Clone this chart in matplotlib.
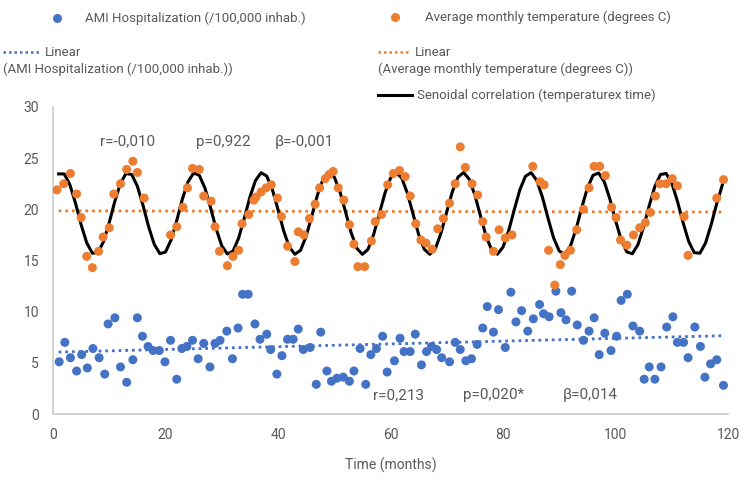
import numpy as np
import matplotlib.pyplot as plt
from matplotlib.lines import Line2D

plt.rcParams['font.family'] = ['Roboto', 'DejaVu Sans']

# AMI hospitalization (/100,000 inhab.), month vs value
ami_t = [1.1, 2.1, 3.1, 4.2, 5.1, 6.1, 7.1, 8.2, 9.2, 9.8, 11.0, 12.0, 13.1, 14.2, 15.0, 15.9,
         16.9, 17.8, 18.9, 19.9, 20.9, 22.0, 22.9, 23.8, 24.8, 25.8, 26.8, 27.9, 28.8, 29.7,
         30.9, 31.9, 32.9, 33.7, 34.7, 35.9, 36.8, 38.0, 38.7, 39.8, 40.7, 41.7, 42.7, 43.6,
         44.5, 45.7, 46.8, 47.6, 48.7, 49.5, 50.5, 51.6, 52.7, 53.5, 54.6, 55.6, 56.5, 57.5,
         58.6, 59.4, 60.7, 61.7, 62.4, 63.5, 64.4, 65.5, 66.4, 67.3, 68.2, 69.1, 70.5, 71.5,
         72.4, 73.4, 74.4, 75.4, 76.4, 77.2, 78.3, 79.2, 80.4, 81.4, 82.3, 83.3, 84.4, 85.4,
         86.5, 87.2, 88.2, 89.4, 90.3, 91.2, 92.2, 93.2, 94.3, 95.3, 96.2, 97.1, 98.1, 99.2,
         100.2, 101.0, 102.1, 103.1, 104.3, 105.1, 106.0, 107.0, 108.1, 109.1, 110.2, 111.0,
         112.1, 112.9, 114.1, 115.1, 115.9, 116.9, 118.0, 119.2]
ami_v = [5.1, 7.0, 5.5, 4.2, 5.8, 4.5, 6.4, 5.5, 3.9, 8.8, 9.4, 4.6, 3.1, 5.3, 9.4, 7.6,
         6.6, 6.2, 6.2, 5.1, 7.2, 3.4, 6.4, 6.6, 7.2, 5.4, 6.9, 4.6, 6.9, 7.2,
         8.1, 5.4, 8.4, 11.7, 11.7, 8.8, 7.3, 7.8, 6.3, 3.9, 5.7, 7.3, 7.3, 8.3,
         6.3, 6.5, 2.9, 8.0, 4.2, 3.2, 3.5, 3.6, 3.2, 4.2, 6.4, 2.9, 5.8, 6.4,
         7.6, 4.1, 5.2, 7.4, 6.1, 6.1, 7.8, 4.8, 6.1, 6.6, 6.3, 5.5, 5.1, 7.0,
         6.3, 5.2, 5.4, 6.8, 8.4, 10.5, 8.0, 10.2, 6.5, 11.9, 9.0, 10.1, 8.1, 9.3,
         10.7, 9.8, 9.5, 12.0, 9.9, 9.2, 12.0, 8.7, 7.2, 8.1, 9.4, 5.8, 7.9, 6.2,
         7.6, 11.1, 11.7, 8.6, 8.1, 3.4, 4.6, 3.4, 4.6, 8.5, 9.5, 7.0,
         7.0, 5.5, 8.5, 6.6, 3.6, 4.9, 5.3, 2.8]

# average monthly temperature (degrees C)
temp_t = [0.7, 1.9, 3.1, 4.2, 5.0, 6.0, 7.0, 8.1, 8.9, 10.0, 10.8, 12.0, 13.1, 14.2, 15.0,
          16.2, 20.9, 22.0, 23.1, 23.9, 24.8, 26.0, 26.8, 28.1, 28.8, 29.6, 31.0, 32.0,
          33.0, 33.6, 34.8, 35.7, 36.1, 37.0, 37.9, 38.8, 39.9, 40.6, 41.7, 43.0, 43.6,
          44.6, 45.6, 46.6, 47.4, 48.4, 49.1, 49.8, 50.7, 51.7, 52.7, 53.5, 54.2, 55.4,
          56.6, 57.3, 58.4, 59.5, 60.5, 61.6, 62.6, 63.5, 64.5, 65.4, 66.3, 67.4, 68.4,
          69.4, 70.5, 71.5, 72.4, 73.3, 74.5, 75.5, 76.4, 77.0, 78.3, 79.3, 80.4, 81.6,
          85.3, 86.6, 87.3, 88.1, 89.2, 90.2, 91.0, 92.0, 93.1, 94.3, 95.3, 96.2, 97.2,
          98.2, 99.3, 100.1, 100.9, 102.0, 103.2, 104.3, 105.3, 106.2, 107.1, 107.9,
          109.0, 110.1, 111.0, 112.2, 112.9, 118.0, 119.2]
temp_v = [21.9, 22.5, 23.5, 21.5, 19.2, 15.4, 14.3, 15.9, 17.3, 18.2, 21.5, 22.5, 23.9, 24.7, 23.6,
          21.1, 17.5, 18.3, 20.2, 22.1, 24.0, 23.9, 21.3, 20.8, 18.3, 15.9, 14.5, 15.4,
          16.0, 18.6, 19.5, 20.9, 21.2, 21.7, 22.1, 22.4, 21.1, 19.3, 16.4, 14.9, 17.8,
          17.5, 19.1, 20.5, 22.1, 23.0, 23.4, 23.7, 22.1, 20.9, 18.5, 16.6, 14.4, 14.4,
          16.9, 18.8, 19.5, 22.4, 23.5, 23.8, 23.2, 21.3, 18.6, 17.0, 16.7, 16.1, 18.1,
          19.1, 20.6, 22.5, 26.1, 24.1, 22.5, 21.4, 18.8, 17.3, 15.9, 18.0, 17.2, 17.5,
          24.2, 22.7, 22.4, 16.0, 12.6, 14.6, 15.5, 16.0, 18.0, 20.0, 22.1, 24.2, 24.2,
          23.3, 20.2, 19.2, 17.0, 16.5, 17.5, 18.2, 18.7, 19.7, 21.3, 22.5,
          22.5, 23.0, 22.3, 19.3, 15.5, 21.1, 22.9]

# fitted sinusoidal curve (temperature x time), months 1..119
sine_t = list(range(1, 120))
sine_v = [23.46, 23.46, 22.41, 20.60, 18.50, 16.72, 15.71, 15.77, 16.87, 18.71, 20.80, 22.56,
          23.51, 23.40, 22.26, 20.39, 18.30, 16.58, 15.67, 15.83, 17.02, 18.91, 21.00, 22.69,
          23.55, 23.33, 22.10, 20.18, 18.11, 16.44, 15.64, 15.91, 17.19, 19.12, 21.19, 22.82,
          23.58, 23.25, 21.93, 19.98, 17.92, 16.32, 15.61, 15.99, 17.36, 19.33, 21.38, 22.94,
          23.60, 23.16, 21.76, 19.77, 17.73, 16.20, 15.60, 16.09, 17.53, 19.54, 21.56, 23.05,
          23.60, 23.06, 21.58, 19.56, 17.55, 16.10, 15.60, 16.19, 17.72, 19.75, 21.74, 23.15,
          23.60, 22.95, 21.39, 19.35, 17.37, 16.00, 15.61, 16.31, 17.90, 19.96, 21.92, 23.24,
          23.58, 22.83, 21.20, 19.14, 17.20, 15.92, 15.63, 16.43, 18.10, 20.16, 22.08, 23.32,
          23.55, 22.70, 21.01, 18.93, 17.04, 15.84, 15.66, 16.56, 18.29, 20.37, 22.24, 23.40,
          23.51, 22.57, 20.81, 18.73, 16.88, 15.77, 15.71, 16.70, 18.49, 20.57, 22.40]

# linear trend end points
ami_trend_t = [1, 119]
ami_trend_v = [6.05, 7.65]
temp_trend_t = [1, 119]
temp_trend_v = [19.85, 19.73]

blue = '#4472C4'
orange = '#ED7D31'
grey = '#595959'

fig = plt.figure(figsize=(7.48, 4.79), dpi=100)
ax = fig.add_axes([53/748, 1 - 414/479, 675/748, 307/479])

ax.plot(ami_trend_t, ami_trend_v, color=blue, lw=2, linestyle=(0, (1, 1.4)), zorder=2)
ax.plot(temp_trend_t, temp_trend_v, color=orange, lw=2, linestyle=(0, (1, 1.4)), zorder=2)
ax.plot(sine_t, sine_v, color='black', lw=2.2, zorder=3)
ax.scatter(ami_t, ami_v, s=42, color=blue, edgecolors='none', zorder=4)
ax.scatter(temp_t, temp_v, s=42, color=orange, edgecolors='none', zorder=4)

ax.set_xlim(0, 120)
ax.set_ylim(0, 30)
ax.set_xticks(np.arange(0, 121, 20))
ax.set_yticks(np.arange(0, 31, 5))
ax.tick_params(length=0, labelsize=10, labelcolor=grey, pad=10)
for s in ['top', 'right']:
    ax.spines[s].set_visible(False)
for s in ['left', 'bottom']:
    ax.spines[s].set_color('#D0D0D0')
    ax.spines[s].set_linewidth(1.3)
ax.set_xlabel('Time (months)', fontsize=10, color=grey, labelpad=11)

# statistics
st = dict(fontsize=11, color=grey, va='center', ha='left')
ax.text(8.4, 26.6, 'r=-0,010', **st)
ax.text(25.5, 26.6, 'p=0,922', **st)
ax.text(39.5, 26.6, 'β=-0,001', **st)
ax.text(56.8, 1.85, 'r=0,213', **st)
ax.text(72.8, 1.85, 'p=0,020*', **st)
ax.text(90.6, 1.85, 'β=0,014', **st)

# legend drawn by hand
lt = dict(fontsize=9.5, color=grey, va='center', ha='left')
fig.add_artist(Line2D([57/748], [1 - 18/479], marker='o', ms=6.5, color=blue, mec='none'))
fig.text(85/748, 1 - 18/479, 'AMI Hospitalization (/100,000 inhab.)', **lt)
fig.add_artist(Line2D([3/748, 40/748], [1 - 52/479] * 2, color=blue, lw=1.8, linestyle=(0, (1, 1.2))))
fig.text(45/748, 1 - 52/479, 'Linear', **lt)
fig.text(3/748, 1 - 69/479, '(AMI Hospitalization (/100,000 inhab.))', **lt)

fig.add_artist(Line2D([395/748], [1 - 17/479], marker='o', ms=6.5, color=orange, mec='none'))
fig.text(425/748, 1 - 17/479, 'Average monthly temperature (degrees C)', **lt)
fig.add_artist(Line2D([378/748, 410/748], [1 - 52/479] * 2, color=orange, lw=1.8, linestyle=(0, (1, 1.2))))
fig.text(415/748, 1 - 52/479, 'Linear', **lt)
fig.text(378/748, 1 - 69/479, '(Average monthly temperature (degrees C))', **lt)
fig.add_artist(Line2D([378/748, 412/748], [1 - 95/479] * 2, color='black', lw=2.2))
fig.text(417/748, 1 - 95/479, 'Senoidal correlation (temperaturex time)', **lt)

fig.savefig('out.png', dpi=100)
